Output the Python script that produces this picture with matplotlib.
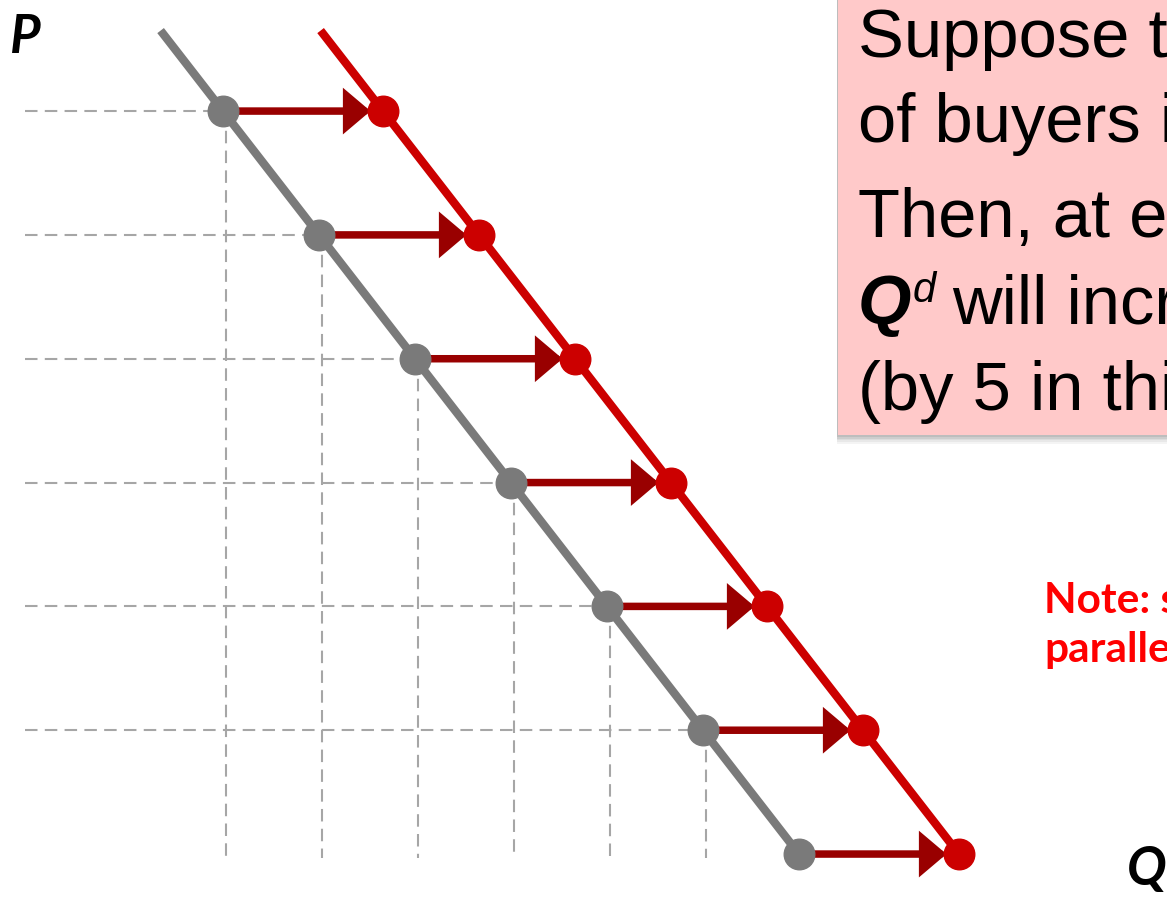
import numpy as np
import matplotlib.pyplot as plt
from matplotlib.patches import Rectangle

# ============================
#  CORES
# ============================
CINZA      = "#7a7a7a"
VERMELHO   = "#cc0000"
SETA       = "#990000"
TRACEJADO  = "#a6a6a6"
ROSA_CAIXA = "#ffc9c9"

# ============================
#  DADOS (escala de demanda)
# ============================
precos   = [6, 5, 4, 3, 2, 1, 0]
q_antes  = [5, 8, 11, 14, 17, 20, 23]
q_depois = [10, 13, 16, 19, 22, 25, 28]

# extremos das curvas
p_curva        = [6.65, 0]
q_curva_antes  = [3.05, 23]
q_curva_depois = [8.05, 28]

# ============================
#  FIGURA
# ============================
W, H = 1167, 899
fig = plt.figure(figsize=(W / 100, H / 100), dpi=100)
ax = fig.add_axes([0, 0, 1, 1])
ax.set_xlim(-63 / 32, (W - 63) / 32)
ax.set_ylim(-0.363, 6.897)
ax.axis("off")


def px(x, y):
    return x / W, 1 - y / H


# linhas guia tracejadas (só para P > 0)
for p, q in zip(precos, q_antes):
    if p == 0:
        continue
    ax.plot([-1.19, q], [p, p], ls=(0, (6, 3.5)), lw=1.5, color=TRACEJADO, zorder=1)
    ax.plot([q + 0.1, q + 0.1], [p, -0.03], ls=(0, (6, 3.5)), lw=1.5, color=TRACEJADO, zorder=1)

# curvas de demanda
ax.plot(q_curva_antes, p_curva, color=CINZA, lw=6, solid_capstyle="butt", zorder=2)
ax.plot(q_curva_depois, p_curva, color=VERMELHO, lw=6, solid_capstyle="butt", zorder=2)

# setas de deslocamento
for p, q0, q1 in zip(precos, q_antes, q_depois):
    ax.annotate("", xy=(q1, p), xytext=(q0, p),
                arrowprops=dict(arrowstyle="-|>,head_length=0.65,head_width=0.55",
                                mutation_scale=20, lw=5.4, color=SETA,
                                shrinkA=11, shrinkB=9, joinstyle="miter"),
                zorder=3)

# pontos
ax.plot(q_antes, precos, "o", ms=22, color=CINZA, zorder=4)
ax.plot(q_depois, precos, "o", ms=22, color=VERMELHO, zorder=4)

# rótulos dos eixos
fig.text(*px(10, 53), "P", fontsize=38, fontweight="bold", style="italic",
         family="Lato", va="baseline", ha="left")
fig.text(*px(1127, 885), "Q", fontsize=38, fontweight="bold", style="italic",
         family="Lato", va="baseline", ha="left")

# ============================
#  CAIXA DE TEXTO
# ============================
x0, x1 = 838 / W, 1.05
y0 = (H - 435) / H
for k, a in enumerate([0.06, 0.07, 0.08, 0.10, 0.12]):
    d = (5 - k) * 1.8
    fig.patches.append(Rectangle((x0 - 1.5 / W, y0 - d / H), x1 - x0, 1.1 - y0,
                                 transform=fig.transFigure, color="#505050",
                                 alpha=a, lw=0, zorder=0))
fig.patches.append(Rectangle((x0, y0), x1 - x0, 1.1 - y0, transform=fig.transFigure,
                             color=ROSA_CAIXA, lw=0, zorder=1))

fs = 49.5
fam = "Liberation Sans"
fig.text(*px(858, 57), "Suppose the number", fontsize=fs, family=fam, va="baseline", zorder=5)
fig.text(*px(858, 142), "of buyers increases.", fontsize=fs, family=fam, va="baseline", zorder=5)
fig.text(*px(858, 237), "Then, at each P,", fontsize=fs, family=fam, va="baseline", zorder=5)
fig.text(*px(858, 323), "Q", fontsize=fs, family=fam, fontweight="bold", style="italic",
         va="baseline", zorder=5)
fig.text(*px(913, 302), "d", fontsize=30, family=fam, style="italic", va="baseline", zorder=5)
fig.text(*px(952, 323), "will increase", fontsize=fs, family=fam, va="baseline", zorder=5)
fig.text(*px(858, 410), "(by 5 in this example).", fontsize=fs, family=fam, va="baseline", zorder=5)

# nota
fig.text(*px(1044, 613), "Note: shift is", fontsize=30.5, family="Lato", fontweight="bold",
         color="#ff0000", va="baseline")
fig.text(*px(1044, 662), "parallel", fontsize=30.5, family="Lato", fontweight="bold",
         color="#ff0000", va="baseline")

fig.savefig("out.png", dpi=100)
